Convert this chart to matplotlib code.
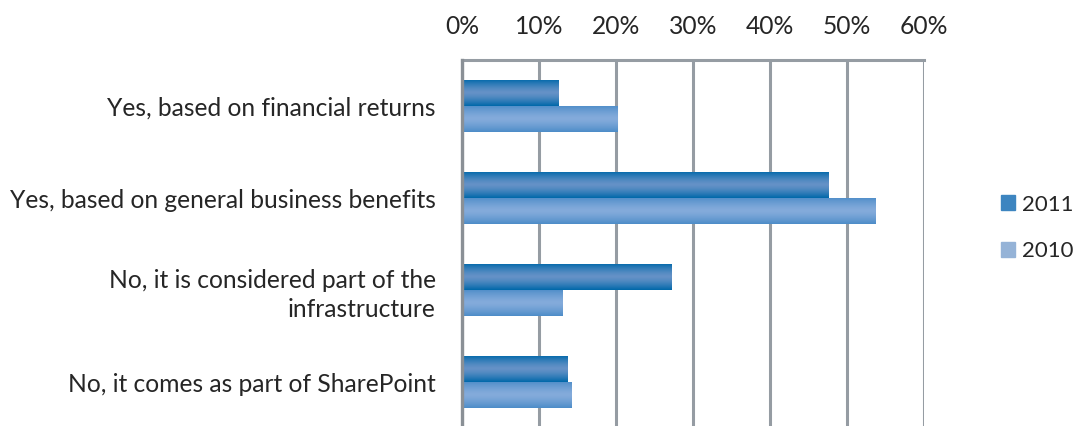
import numpy as np
import matplotlib

matplotlib.use("Agg")
import matplotlib.pyplot as plt
from matplotlib.colors import to_rgb
from matplotlib.patches import Patch

categories = [
    "Yes, based on financial returns",
    "Yes, based on general business benefits",
    "No, it is considered part of the\ninfrastructure",
    "No, it comes as part of SharePoint",
]
series_names = ["2011", "2010"]
values_2011 = [12.6, 47.6, 27.2, 13.7]
values_2010 = [20.2, 53.7, 13.1, 14.2]
x_ticks = [0, 10, 20, 30, 40, 50, 60]

# edge / centre colours of the shaded bars, plus flat legend swatch colours
bar_shades = {
    "2011": ("#0068aa", "#6592c7"),
    "2010": ("#4d8cc8", "#84abdb"),
}
legend_colors = {"2011": "#3d85c0", "2010": "#95b3d7"}

plt.rcParams["font.family"] = ["Lato", "DejaVu Sans"]
TEXT = "#262626"
GRID = "#959ca3"
FS = 17.7


def shade_bar(ax, patch, edge, centre):
    e = np.array(to_rgb(edge))
    c = np.array(to_rgb(centre))
    t = np.linspace(-1, 1, 64)
    w = 1 - np.abs(t) ** 1.4
    img = e[None, :] * (1 - w[:, None]) + c[None, :] * w[:, None]
    img = img[:, None, :]
    x0, y0 = patch.get_x(), patch.get_y()
    x1, y1 = x0 + patch.get_width(), y0 + patch.get_height()
    im = ax.imshow(img, extent=(x0, x1, y1, y0), aspect="auto",
                   interpolation="bilinear", zorder=patch.get_zorder() + 0.1)
    im.set_clip_path(patch)


fig = plt.figure(figsize=(10.74, 4.26), dpi=100)
ax = fig.add_axes([0.4302, -0.01, 0.430, 0.869])

y = np.arange(len(categories))
h = 0.283
bars11 = ax.barh(y - h / 2, values_2011, height=h, color=bar_shades["2011"][0],
                 linewidth=0, zorder=3)
bars10 = ax.barh(y + h / 2, values_2010, height=h, color=bar_shades["2010"][0],
                 linewidth=0, zorder=3)
for p in bars11:
    shade_bar(ax, p, *bar_shades["2011"])
for p in bars10:
    shade_bar(ax, p, *bar_shades["2010"])

ax.set_xlim(0, 60)
ax.set_ylim(3.52, -0.5)
ax.set_xticks(x_ticks)
ax.set_xticklabels([f"{t}%" for t in x_ticks])
ax.xaxis.tick_top()
ax.tick_params(axis="x", length=0, pad=16, labelsize=FS, colors=TEXT)
ax.set_yticks(y)
ax.set_yticklabels(categories, fontsize=FS, color=TEXT, linespacing=1.3)
ax.tick_params(axis="y", length=0, pad=19)

ax.grid(axis="x", color=GRID, linewidth=2.2, zorder=1)
for side in ["bottom", "right"]:
    ax.spines[side].set_visible(False)
ax.spines["top"].set_color(GRID)
ax.spines["top"].set_linewidth(2.2)
ax.spines["left"].set_color("#8a9096")
ax.spines["left"].set_linewidth(2.4)
ax.spines["left"].set_zorder(4)

handles = [Patch(color=legend_colors[s], label=s) for s in series_names]
fig.legend(handles=handles, loc="center left", bbox_to_anchor=(0.913, 0.465),
           frameon=False, fontsize=16, handlelength=0.65, handleheight=0.65,
           handletextpad=0.3, labelspacing=1.2, labelcolor=TEXT)

fig.savefig("out.png", dpi=100)
